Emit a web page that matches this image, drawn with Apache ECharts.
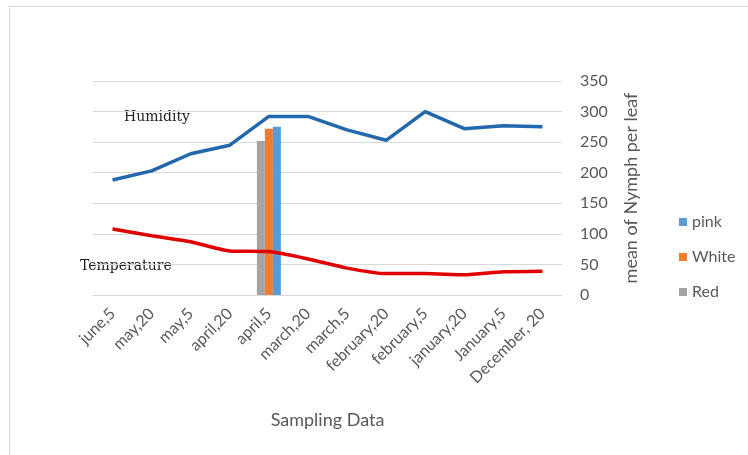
<!DOCTYPE html>
<html lang="en">
<head>
    <meta charset="UTF-8">
    <title>Nymph chart</title>
    <script src="https://cdn.jsdelivr.net/npm/echarts@6/dist/echarts.min.js"></script>
    <style>
        html, body { margin: 0; padding: 0; background: #fff; }
        #main { width: 748px; height: 455px; }
    </style>
</head>
<body>
<div id="main"></div>
<script type="text/javascript">
    // data
    var categories = ['june,5', 'may,20', 'may,5', 'april,20', 'april,5', 'march,20', 'march,5',
        'february,20', 'february,5', 'january,20', 'January,5', 'December, 20'];
    var humidity = [188, 203, 231, 245, 292, 292, 270, 253, 300, 272, 277, 275];
    var temperature = [108, 97, 87, 72, 71, 59, 44, 35, 35, 33, 38, 39];
    var redBar = [null, null, null, null, 252, null, null, null, null, null, null, null];
    var whiteBar = [null, null, null, null, 272, null, null, null, null, null, null, null];
    var pinkBar = [null, null, null, null, 275, null, null, null, null, null, null, null];
    var yTicks = [0, 50, 100, 150, 200, 250, 300, 350];

    var myChart = echarts.init(document.getElementById('main'));
    var grey = '#595959';
    var font = 'Lato';

    function bar(name, data, color) {
        return {
            name: name,
            type: 'bar',
            data: data,
            barWidth: 8,
            barGap: '0%',
            itemStyle: {color: color},
            z: 2
        };
    }

    var option = {
        backgroundColor: '#fff',
        animation: false,
        grid: {left: 93, right: 186, top: 81, bottom: 160},
        legend: {
            orient: 'vertical',
            left: 674,
            top: 209,
            itemWidth: 8,
            itemHeight: 8,
            itemGap: 19,
            icon: 'rect',
            data: ['pink', 'White', 'Red'],
            textStyle: {color: grey, fontSize: 16, fontFamily: font}
        },
        xAxis: {
            type: 'category',
            data: categories,
            axisTick: {show: false},
            axisLine: {lineStyle: {color: '#d9d9d9'}},
            axisLabel: {rotate: 45, color: grey, fontSize: 16, fontFamily: font, margin: 16, interval: 0},
            name: 'Sampling Data',
            nameLocation: 'middle',
            nameGap: 116,
            nameTextStyle: {color: grey, fontSize: 18, fontFamily: font}
        },
        yAxis: {
            type: 'value',
            position: 'right',
            min: yTicks[0],
            max: yTicks[yTicks.length - 1],
            interval: 50,
            splitLine: {lineStyle: {color: '#d9d9d9'}},
            axisLine: {show: false},
            axisTick: {show: false},
            axisLabel: {color: grey, fontSize: 16, fontFamily: font, margin: 18},
            name: 'mean of Nymph per leaf',
            nameLocation: 'middle',
            nameGap: 60,
            nameRotate: 90,
            nameTextStyle: {color: grey, fontSize: 18, fontFamily: font}
        },
        graphic: [
            {type: 'line', shape: {x1: 10, y1: 6.5, x2: 748, y2: 6.5}, style: {stroke: '#d9d9d9', lineWidth: 1}},
            {type: 'line', shape: {x1: 9.5, y1: 6, x2: 9.5, y2: 455}, style: {stroke: '#d9d9d9', lineWidth: 1}},
            {type: 'text', left: 124, top: 110, style: {text: 'Humidity', font: '14px "DejaVu Serif"', fill: '#222'}},
            {type: 'text', left: 80, top: 259, style: {text: 'Temperature', font: '14px "DejaVu Serif"', fill: '#222'}}
        ],
        series: [
            bar('Red', redBar, '#a5a5a5'),
            bar('White', whiteBar, '#ed7d31'),
            bar('pink', pinkBar, '#5b9bd5'),
            {
                name: 'Humidity',
                type: 'line',
                data: humidity,
                symbol: 'none',
                lineStyle: {color: '#2367ad', width: 3.5},
                itemStyle: {color: '#2367ad'},
                z: 3
            },
            {
                name: 'Temperature',
                type: 'line',
                data: temperature,
                symbol: 'none',
                smooth: 0.2,
                lineStyle: {color: '#e00000', width: 3.5},
                itemStyle: {color: '#e00000'},
                z: 3
            }
        ]
    };
    myChart.setOption(option);
</script>
</body>
</html>
